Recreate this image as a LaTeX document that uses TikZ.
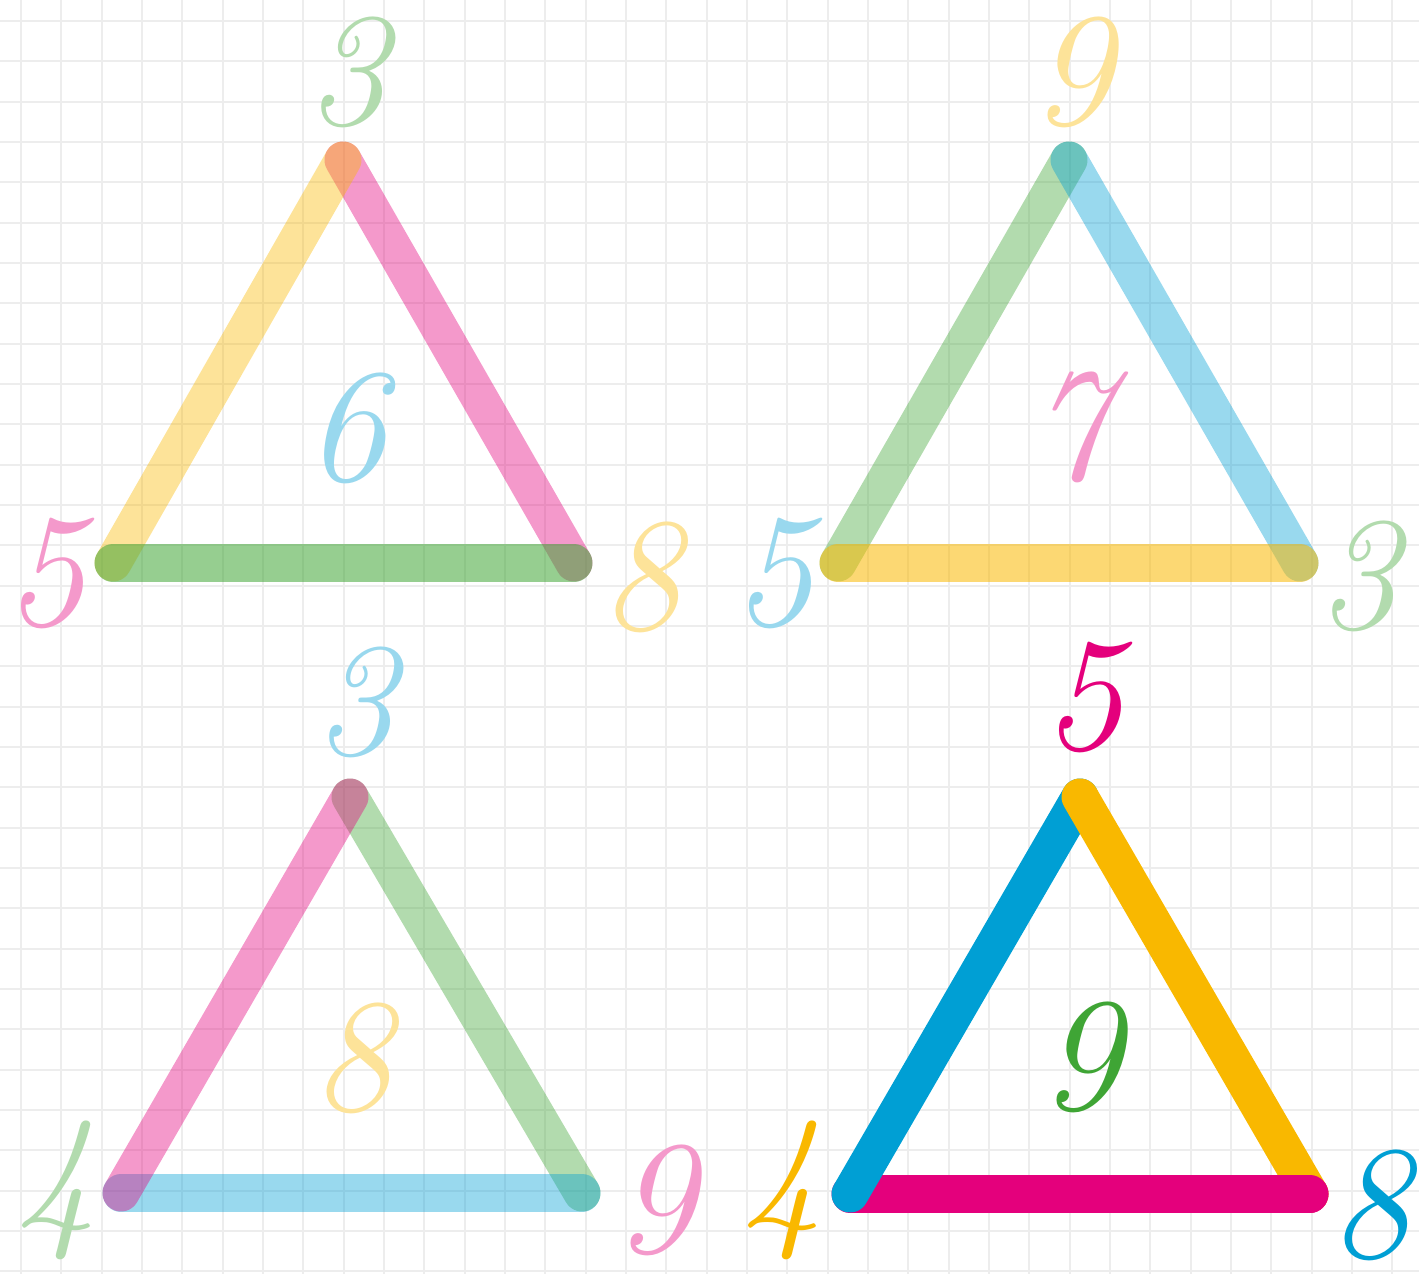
\documentclass[tikz,border=0pt]{standalone}
\usetikzlibrary{positioning}
\definecolor{TriBlue}{HTML}{009FD4}
\definecolor{TriYellow}{HTML}{F9B800}
\definecolor{TriPink}{HTML}{E4007C}
\definecolor{TriGreen}{HTML}{3FA535}
\tikzset{
  grade/.style={draw=black!7, line width=0.6pt},
  lado/.style={line width=0.37cm, line cap=round},
  claro/.style={lado, opacity=0.4},
  medio/.style={lado, opacity=0.55},
  num/.style={font=\fontsize{46}{46}\selectfont\itshape, inner sep=0pt},
}

\begin{document}
\begin{tikzpicture}[x=0.01cm, y=-0.01cm]
  \useasboundingbox (0,0) rectangle (1419,1274);

  % Papel quadriculado
  \foreach \i in {0,...,34}
    \draw[grade] ({21+40.33*\i},0) -- ({21+40.33*\i},1274);
  \foreach \i in {0,...,31}
    \draw[grade] (0,{21+40.33*\i}) -- (1419,{21+40.33*\i});

  % Vertices
  \coordinate (t1a) at (343,160);  \coordinate (t1l) at (113,563);  \coordinate (t1r) at (574,563);
  \coordinate (t2a) at (1069,160); \coordinate (t2l) at (838,563);  \coordinate (t2r) at (1300,563);
  \coordinate (t3a) at (350,797);  \coordinate (t3l) at (121,1193); \coordinate (t3r) at (582,1193);
  \coordinate (t4a) at (1080,797); \coordinate (t4l) at (850,1194); \coordinate (t4r) at (1310,1194);

  % Triangulo 1
  \draw[claro, TriPink] (t1a) -- (t1r);
  \draw[claro, TriYellow] (t1l) -- (t1a);
  \draw[medio, TriGreen] (t1l) -- (t1r);
  \node[num, text=TriGreen!40] (t1top) at (347,72) {3};
  \node[num, text=TriBlue!40] (t1mid) at (346,428) {6};
  \node[num, text=TriPink!40] (t1left) at (45,573) {5};
  \node[num, text=TriYellow!40] (t1right) at (641,577) {8};

  % Triangulo 2
  \draw[claro, TriGreen] (t2l) -- (t2a);
  \draw[claro, TriBlue] (t2a) -- (t2r);
  \draw[medio, TriYellow] (t2l) -- (t2r);
  \node[num, text=TriYellow!40] (t2top) at (1072,72) {9};
  \node[num, text=TriPink!40] (t2mid) at (1070,427) {7};
  \node[num, text=TriBlue!40] (t2left) at (773,573) {5};
  \node[num, text=TriGreen!40] (t2right) at (1358,576) {3};

  % Triangulo 3
  \draw[claro, TriGreen] (t3a) -- (t3r);
  \draw[claro, TriBlue] (t3l) -- (t3r);
  \draw[claro, TriPink] (t3l) -- (t3a);
  \node[num, text=TriBlue!40] (t3top) at (355,702) {3};
  \node[num, text=TriYellow!40] (t3mid) at (352,1058) {8};
  \node[num, text=TriGreen!40] (t3left) at (56,1190) {4};
  \node[num, text=TriPink!40] (t3right) at (655,1200) {9};

  % Triangulo 4 (cores cheias)
  \draw[lado, TriPink] (t4l) -- (t4r);
  \draw[lado, TriBlue] (t4l) -- (t4a);
  \draw[lado, TriYellow] (t4a) -- (t4r);
  \begin{scope}
    \clip (1240,1150) rectangle (1350,1240);
    \draw[lado, TriPink] (t4l) -- (t4r);
  \end{scope}
  \node[num, text=TriPink] (t4top) at (1083,697) {5};
  \node[num, text=TriGreen] (t4mid) at (1081,1057) {9};
  \node[num, text=TriYellow] (t4left) at (782,1190) {4};
  \node[num, text=TriBlue] (t4right) at (1370,1205) {8};
\end{tikzpicture}
\end{document}
